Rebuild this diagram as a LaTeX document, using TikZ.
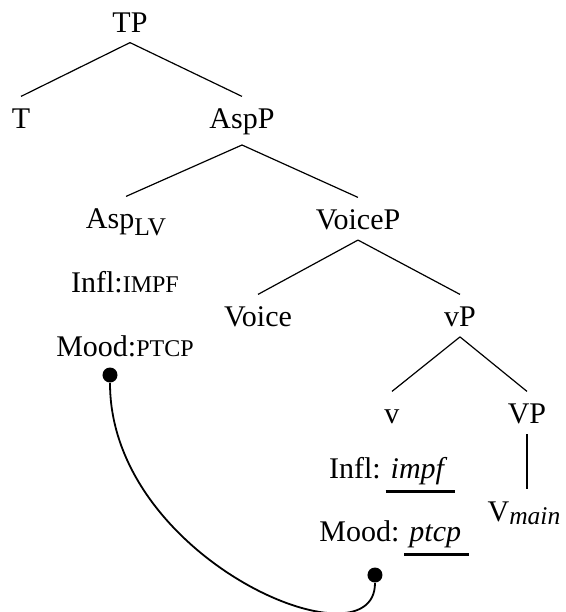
\documentclass[tikz,border=0pt]{standalone}
\usepackage{fontspec}
\setmainfont{Liberation Serif}
\usetikzlibrary{calc}
\newcommand{\featsc}[1]{{\fontsize{8}{9.6}\selectfont #1}}
\newcommand{\featul}[1]{\setbox0\hbox{#1}\rlap{\rule[-5.1pt]{\wd0}{1pt}}\box0}
\newcommand{\lowsub}[2][2pt]{\raisebox{-#1}{\fontsize{8.5}{10}\selectfont #2}}
\tikzset{
  every node/.style={font=\normalsize, text=black},
  cat/.style={anchor=base, text height=0.7em},
  feat/.style={anchor=base},
  branch/.style={draw=black, line width=0.4pt},
  dot/.style={circle, fill=black, inner sep=0pt, minimum size=5pt},
  link/.style={draw=black, line width=0.6pt},
}
\begin{document}
\begin{tikzpicture}[x=0.3333pt, y=-0.3333pt]
  \useasboundingbox (0,0) rectangle (566,612);

  % tree nodes, one row per level
  \node[cat] (tp)     at (130,32)  {TP};
  \node[cat] (t)      at (21,128)  {T};
  \node[cat] (aspp)   at (242,128) {AspP};
  \node[cat] (asp)    at (126,228) {Asp\lowsub[2.6pt]{LV}};
  \node[cat] (voicep) at (358,229) {VoiceP};
  \node[cat] (voice)  at (258,326) {Voice};
  \node[cat] (vp)     at (460,326) {vP};
  \node[cat] (v)      at (392,423) {v};
  \node[cat] (bigvp)  at (527,423) {VP};
  \node[cat] (vmain)  at (524,521) {V\lowsub[1.2pt]{\textit{main}}};

  % branches
  \draw[branch] (tp.south) -- (t.north);
  \draw[branch] (tp.south) -- (aspp.north);
  \draw[branch] (aspp.south) -- (asp.north);
  \draw[branch] (aspp.south) -- (voicep.north);
  \draw[branch] (voicep.south) -- (voice.north);
  \draw[branch] (voicep.south) -- (vp.north);
  \draw[branch] (vp.south) -- (v.north);
  \draw[branch] (vp.south) -- (bigvp.north);
  \draw[branch] (bigvp.south) -- (bigvp.south |- vmain.north);

  % features
  \node[feat] (inflasp)  at (125,292) {Infl:\featsc{IMPF}};
  \node[feat] (moodasp)  at (125,356) {Mood:\featsc{PTCP}};
  \node[feat] (inflv)    at (392,478) {Infl:\,\featul{\,\textit{impf}\ }};
  \node[feat] (moodv)    at (394,541) {Mood:\,\featul{\,\textit{ptcp}\ }};

  % agreement link
  \node[dot] (dasp) at (110,375) {};
  \node[dot] (dv)   at (375,575) {};
  \draw[link] (dasp) .. controls +(0,185) and +(0,95) .. (dv);
\end{tikzpicture}
\end{document}
